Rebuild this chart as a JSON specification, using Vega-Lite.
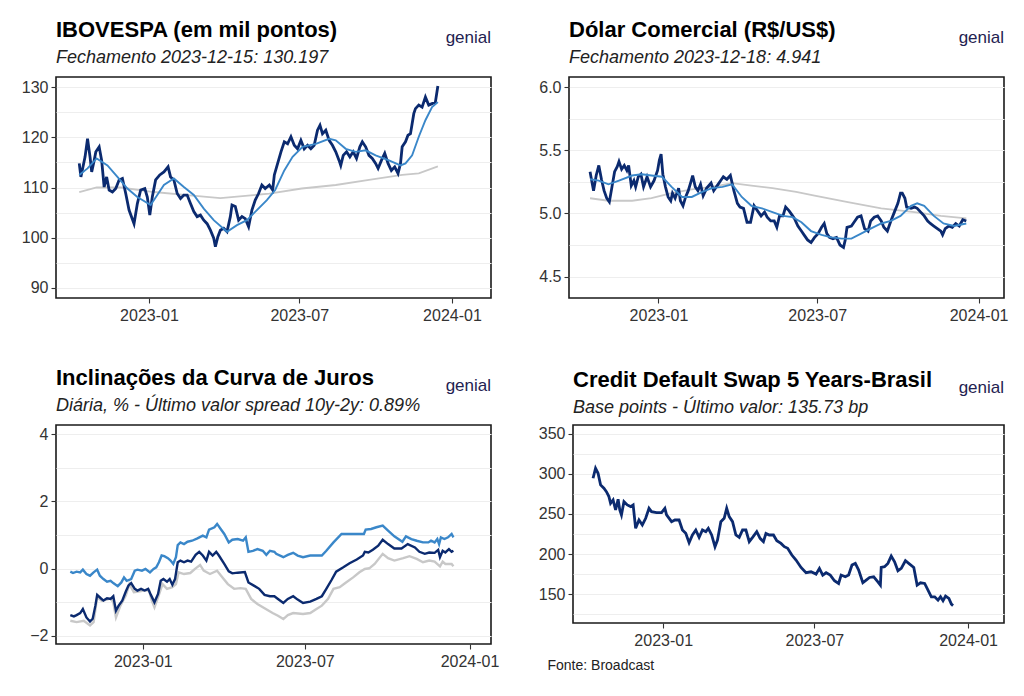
{
"$schema": "https://vega.github.io/schema/vega-lite/v6.json",
"background": "white",
"padding": {"left": 20, "top": 18, "right": 5, "bottom": 5},
"config": {
  "font": "Liberation Sans",
  "view": {"stroke": "#1a1a1a", "strokeWidth": 1.6},
  "axis": {"domain": false, "grid": false, "tickColor": "#333333", "tickSize": 5, "tickWidth": 1.1, "labelColor": "#333333", "labelFontSize": 16, "labelFont": "Liberation Sans"},
  "axisX": {"labelPadding": 4},
  "axisY": {"grid": true, "gridColor": "#eeeeee", "gridWidth": 1, "labelPadding": 3},
  "title": {"anchor": "start", "frame": "group", "font": "Liberation Sans", "fontSize": 22, "fontWeight": "bold", "color": "#000000", "subtitleFont": "Liberation Sans", "subtitleFontSize": 18, "subtitleFontStyle": "italic", "subtitleColor": "#222222", "subtitlePadding": 7, "offset": -39}
},
"datasets": {
"ibov": [
{"d":"2022-10-09","v":114.8,"s":"p"},{"d":"2022-10-11","v":112.1,"s":"p"},{"d":"2022-10-16","v":116.1,"s":"p"},{"d":"2022-10-19","v":119.7,"s":"p"},{"d":"2022-10-22","v":116.1,"s":"p"},{"d":"2022-10-24","v":113.1,"s":"p"},{"d":"2022-10-27","v":115.4,"s":"p"},{"d":"2022-10-29","v":117.1,"s":"p"},{"d":"2022-11-02","v":118.1,"s":"p"},{"d":"2022-11-05","v":115.4,"s":"p"},{"d":"2022-11-08","v":110.1,"s":"p"},{"d":"2022-11-11","v":112.1,"s":"p"},{"d":"2022-11-14","v":109.5,"s":"p"},{"d":"2022-11-18","v":109.1,"s":"p"},{"d":"2022-11-22","v":109.8,"s":"p"},{"d":"2022-11-26","v":111.5,"s":"p"},{"d":"2022-11-30","v":111.8,"s":"p"},{"d":"2022-12-04","v":108.8,"s":"p"},{"d":"2022-12-08","v":105.5,"s":"p"},{"d":"2022-12-14","v":102.8,"s":"p"},{"d":"2022-12-18","v":106.8,"s":"p"},{"d":"2022-12-22","v":109.5,"s":"p"},{"d":"2022-12-27","v":109.8,"s":"p"},{"d":"2022-12-30","v":108.1,"s":"p"},{"d":"2023-01-02","v":104.5,"s":"p"},{"d":"2023-01-05","v":108.1,"s":"p"},{"d":"2023-01-09","v":111.5,"s":"p"},{"d":"2023-01-14","v":112.5,"s":"p"},{"d":"2023-01-19","v":113.1,"s":"p"},{"d":"2023-01-24","v":114.1,"s":"p"},{"d":"2023-01-27","v":112.1,"s":"p"},{"d":"2023-01-31","v":111.5,"s":"p"},{"d":"2023-02-04","v":108.8,"s":"p"},{"d":"2023-02-08","v":107.8,"s":"p"},{"d":"2023-02-12","v":108.5,"s":"p"},{"d":"2023-02-16","v":108.5,"s":"p"},{"d":"2023-02-20","v":106.8,"s":"p"},{"d":"2023-02-24","v":105.2,"s":"p"},{"d":"2023-02-28","v":104.2,"s":"p"},{"d":"2023-03-04","v":104.5,"s":"p"},{"d":"2023-03-08","v":103.5,"s":"p"},{"d":"2023-03-12","v":102.8,"s":"p"},{"d":"2023-03-16","v":101.5,"s":"p"},{"d":"2023-03-20","v":99.9,"s":"p"},{"d":"2023-03-22","v":98.2,"s":"p"},{"d":"2023-03-25","v":100.2,"s":"p"},{"d":"2023-03-28","v":101.5,"s":"p"},{"d":"2023-04-01","v":101.9,"s":"p"},{"d":"2023-04-05","v":101.2,"s":"p"},{"d":"2023-04-09","v":104.2,"s":"p"},{"d":"2023-04-11","v":106.5,"s":"p"},{"d":"2023-04-15","v":106.2,"s":"p"},{"d":"2023-04-19","v":103.5,"s":"p"},{"d":"2023-04-23","v":104.2,"s":"p"},{"d":"2023-04-27","v":103.8,"s":"p"},{"d":"2023-05-01","v":102.2,"s":"p"},{"d":"2023-05-05","v":105.5,"s":"p"},{"d":"2023-05-09","v":107.5,"s":"p"},{"d":"2023-05-13","v":108.8,"s":"p"},{"d":"2023-05-17","v":110.5,"s":"p"},{"d":"2023-05-21","v":109.8,"s":"p"},{"d":"2023-05-26","v":110.5,"s":"p"},{"d":"2023-05-30","v":109.5,"s":"p"},{"d":"2023-06-01","v":112.5,"s":"p"},{"d":"2023-06-05","v":114.8,"s":"p"},{"d":"2023-06-09","v":117.1,"s":"p"},{"d":"2023-06-13","v":119.1,"s":"p"},{"d":"2023-06-17","v":118.7,"s":"p"},{"d":"2023-06-21","v":120.1,"s":"p"},{"d":"2023-06-25","v":118.4,"s":"p"},{"d":"2023-06-29","v":117.7,"s":"p"},{"d":"2023-07-03","v":119.4,"s":"p"},{"d":"2023-07-07","v":117.7,"s":"p"},{"d":"2023-07-11","v":118.4,"s":"p"},{"d":"2023-07-15","v":117.7,"s":"p"},{"d":"2023-07-19","v":118.4,"s":"p"},{"d":"2023-07-23","v":121.4,"s":"p"},{"d":"2023-07-26","v":122.4,"s":"p"},{"d":"2023-07-29","v":120.7,"s":"p"},{"d":"2023-08-02","v":121.4,"s":"p"},{"d":"2023-08-06","v":119.4,"s":"p"},{"d":"2023-08-10","v":118.4,"s":"p"},{"d":"2023-08-14","v":117.1,"s":"p"},{"d":"2023-08-18","v":115.4,"s":"p"},{"d":"2023-08-20","v":114.4,"s":"p"},{"d":"2023-08-23","v":116.4,"s":"p"},{"d":"2023-08-27","v":117.1,"s":"p"},{"d":"2023-08-31","v":116.1,"s":"p"},{"d":"2023-09-04","v":117.1,"s":"p"},{"d":"2023-09-08","v":115.8,"s":"p"},{"d":"2023-09-12","v":118.1,"s":"p"},{"d":"2023-09-15","v":119.1,"s":"p"},{"d":"2023-09-19","v":118.1,"s":"p"},{"d":"2023-09-23","v":116.4,"s":"p"},{"d":"2023-09-27","v":115.8,"s":"p"},{"d":"2023-10-01","v":114.8,"s":"p"},{"d":"2023-10-04","v":113.8,"s":"p"},{"d":"2023-10-08","v":115.4,"s":"p"},{"d":"2023-10-12","v":116.8,"s":"p"},{"d":"2023-10-16","v":114.8,"s":"p"},{"d":"2023-10-20","v":113.4,"s":"p"},{"d":"2023-10-24","v":114.1,"s":"p"},{"d":"2023-10-28","v":112.8,"s":"p"},{"d":"2023-10-31","v":114.8,"s":"p"},{"d":"2023-11-02","v":118.1,"s":"p"},{"d":"2023-11-06","v":119.1,"s":"p"},{"d":"2023-11-09","v":120.4,"s":"p"},{"d":"2023-11-12","v":120.7,"s":"p"},{"d":"2023-11-14","v":122.7,"s":"p"},{"d":"2023-11-16","v":124.7,"s":"p"},{"d":"2023-11-18","v":125.7,"s":"p"},{"d":"2023-11-22","v":126.4,"s":"p"},{"d":"2023-11-26","v":126.0,"s":"p"},{"d":"2023-11-30","v":128.0,"s":"p"},{"d":"2023-12-04","v":126.4,"s":"p"},{"d":"2023-12-08","v":126.7,"s":"p"},{"d":"2023-12-12","v":127.0,"s":"p"},{"d":"2023-12-15","v":130.2,"s":"p"},
{"d":"2022-10-09","v":112.5,"s":"m"},{"d":"2022-10-19","v":113.8,"s":"m"},{"d":"2022-10-30","v":115.8,"s":"m"},{"d":"2022-11-12","v":114.4,"s":"m"},{"d":"2022-11-24","v":112.1,"s":"m"},{"d":"2022-12-06","v":109.8,"s":"m"},{"d":"2022-12-18","v":108.1,"s":"m"},{"d":"2023-01-03","v":106.5,"s":"m"},{"d":"2023-01-11","v":108.5,"s":"m"},{"d":"2023-01-19","v":110.5,"s":"m"},{"d":"2023-01-31","v":111.8,"s":"m"},{"d":"2023-02-12","v":110.1,"s":"m"},{"d":"2023-02-24","v":108.5,"s":"m"},{"d":"2023-03-08","v":105.8,"s":"m"},{"d":"2023-03-20","v":103.5,"s":"m"},{"d":"2023-04-05","v":101.2,"s":"m"},{"d":"2023-04-17","v":102.5,"s":"m"},{"d":"2023-04-29","v":103.5,"s":"m"},{"d":"2023-05-11","v":105.5,"s":"m"},{"d":"2023-05-23","v":107.5,"s":"m"},{"d":"2023-06-02","v":109.5,"s":"m"},{"d":"2023-06-13","v":113.4,"s":"m"},{"d":"2023-06-23","v":116.1,"s":"m"},{"d":"2023-07-05","v":118.1,"s":"m"},{"d":"2023-07-21","v":118.7,"s":"m"},{"d":"2023-08-06","v":119.7,"s":"m"},{"d":"2023-08-14","v":119.4,"s":"m"},{"d":"2023-08-26","v":117.7,"s":"m"},{"d":"2023-09-07","v":117.1,"s":"m"},{"d":"2023-09-19","v":117.4,"s":"m"},{"d":"2023-10-01","v":116.4,"s":"m"},{"d":"2023-10-17","v":115.4,"s":"m"},{"d":"2023-10-31","v":114.4,"s":"m"},{"d":"2023-11-06","v":114.8,"s":"m"},{"d":"2023-11-14","v":116.4,"s":"m"},{"d":"2023-11-22","v":120.1,"s":"m"},{"d":"2023-11-30","v":123.4,"s":"m"},{"d":"2023-12-08","v":126.0,"s":"m"},{"d":"2023-12-15","v":127.0,"s":"m"},
{"d":"2022-10-09","v":109.1,"s":"l"},{"d":"2022-10-30","v":110.0,"s":"l"},{"d":"2022-11-28","v":110.0,"s":"l"},{"d":"2023-01-07","v":109.1,"s":"l"},{"d":"2023-02-16","v":108.5,"s":"l"},{"d":"2023-03-28","v":107.9,"s":"l"},{"d":"2023-05-07","v":108.5,"s":"l"},{"d":"2023-05-26","v":108.8,"s":"l"},{"d":"2023-07-04","v":109.8,"s":"l"},{"d":"2023-08-14","v":110.5,"s":"l"},{"d":"2023-09-23","v":111.5,"s":"l"},{"d":"2023-11-02","v":112.5,"s":"l"},{"d":"2023-11-22","v":112.8,"s":"l"},{"d":"2023-12-15","v":114.2,"s":"l"}
],
"dol": [
{"d":"2022-10-15","v":5.33,"s":"p"},{"d":"2022-10-19","v":5.18,"s":"p"},{"d":"2022-10-22","v":5.30,"s":"p"},{"d":"2022-10-25","v":5.38,"s":"p"},{"d":"2022-10-28","v":5.27,"s":"p"},{"d":"2022-10-31","v":5.18,"s":"p"},{"d":"2022-11-03","v":5.12,"s":"p"},{"d":"2022-11-06","v":5.09,"s":"p"},{"d":"2022-11-09","v":5.21,"s":"p"},{"d":"2022-11-12","v":5.33,"s":"p"},{"d":"2022-11-15","v":5.37,"s":"p"},{"d":"2022-11-17","v":5.41,"s":"p"},{"d":"2022-11-20","v":5.35,"s":"p"},{"d":"2022-11-23","v":5.38,"s":"p"},{"d":"2022-11-26","v":5.34,"s":"p"},{"d":"2022-11-28","v":5.38,"s":"p"},{"d":"2022-12-01","v":5.22,"s":"p"},{"d":"2022-12-04","v":5.26,"s":"p"},{"d":"2022-12-06","v":5.21,"s":"p"},{"d":"2022-12-09","v":5.29,"s":"p"},{"d":"2022-12-12","v":5.31,"s":"p"},{"d":"2022-12-15","v":5.21,"s":"p"},{"d":"2022-12-19","v":5.29,"s":"p"},{"d":"2022-12-23","v":5.21,"s":"p"},{"d":"2022-12-27","v":5.26,"s":"p"},{"d":"2022-12-31","v":5.34,"s":"p"},{"d":"2023-01-02","v":5.42,"s":"p"},{"d":"2023-01-04","v":5.47,"s":"p"},{"d":"2023-01-06","v":5.31,"s":"p"},{"d":"2023-01-09","v":5.21,"s":"p"},{"d":"2023-01-12","v":5.13,"s":"p"},{"d":"2023-01-15","v":5.10,"s":"p"},{"d":"2023-01-17","v":5.16,"s":"p"},{"d":"2023-01-20","v":5.12,"s":"p"},{"d":"2023-01-24","v":5.20,"s":"p"},{"d":"2023-01-26","v":5.10,"s":"p"},{"d":"2023-01-29","v":5.06,"s":"p"},{"d":"2023-02-01","v":5.13,"s":"p"},{"d":"2023-02-04","v":5.18,"s":"p"},{"d":"2023-02-07","v":5.25,"s":"p"},{"d":"2023-02-09","v":5.30,"s":"p"},{"d":"2023-02-12","v":5.21,"s":"p"},{"d":"2023-02-15","v":5.18,"s":"p"},{"d":"2023-02-18","v":5.23,"s":"p"},{"d":"2023-02-21","v":5.14,"s":"p"},{"d":"2023-02-25","v":5.20,"s":"p"},{"d":"2023-03-02","v":5.24,"s":"p"},{"d":"2023-03-05","v":5.18,"s":"p"},{"d":"2023-03-09","v":5.22,"s":"p"},{"d":"2023-03-13","v":5.26,"s":"p"},{"d":"2023-03-16","v":5.29,"s":"p"},{"d":"2023-03-20","v":5.27,"s":"p"},{"d":"2023-03-24","v":5.30,"s":"p"},{"d":"2023-03-28","v":5.18,"s":"p"},{"d":"2023-04-01","v":5.08,"s":"p"},{"d":"2023-04-04","v":5.05,"s":"p"},{"d":"2023-04-08","v":5.04,"s":"p"},{"d":"2023-04-12","v":4.93,"s":"p"},{"d":"2023-04-16","v":4.93,"s":"p"},{"d":"2023-04-20","v":5.06,"s":"p"},{"d":"2023-04-24","v":5.02,"s":"p"},{"d":"2023-04-28","v":4.98,"s":"p"},{"d":"2023-05-02","v":5.01,"s":"p"},{"d":"2023-05-05","v":4.97,"s":"p"},{"d":"2023-05-09","v":4.94,"s":"p"},{"d":"2023-05-13","v":4.94,"s":"p"},{"d":"2023-05-16","v":4.89,"s":"p"},{"d":"2023-05-19","v":4.98,"s":"p"},{"d":"2023-05-23","v":4.98,"s":"p"},{"d":"2023-05-26","v":5.05,"s":"p"},{"d":"2023-05-30","v":5.02,"s":"p"},{"d":"2023-06-03","v":4.98,"s":"p"},{"d":"2023-06-05","v":4.96,"s":"p"},{"d":"2023-06-09","v":4.90,"s":"p"},{"d":"2023-06-13","v":4.86,"s":"p"},{"d":"2023-06-16","v":4.83,"s":"p"},{"d":"2023-06-20","v":4.79,"s":"p"},{"d":"2023-06-24","v":4.77,"s":"p"},{"d":"2023-06-28","v":4.81,"s":"p"},{"d":"2023-07-02","v":4.84,"s":"p"},{"d":"2023-07-06","v":4.89,"s":"p"},{"d":"2023-07-09","v":4.92,"s":"p"},{"d":"2023-07-12","v":4.84,"s":"p"},{"d":"2023-07-15","v":4.81,"s":"p"},{"d":"2023-07-19","v":4.80,"s":"p"},{"d":"2023-07-23","v":4.81,"s":"p"},{"d":"2023-07-27","v":4.75,"s":"p"},{"d":"2023-07-31","v":4.73,"s":"p"},{"d":"2023-08-02","v":4.79,"s":"p"},{"d":"2023-08-04","v":4.89,"s":"p"},{"d":"2023-08-09","v":4.90,"s":"p"},{"d":"2023-08-12","v":4.93,"s":"p"},{"d":"2023-08-16","v":4.97,"s":"p"},{"d":"2023-08-20","v":4.98,"s":"p"},{"d":"2023-08-24","v":4.88,"s":"p"},{"d":"2023-08-28","v":4.86,"s":"p"},{"d":"2023-08-31","v":4.94,"s":"p"},{"d":"2023-09-04","v":4.97,"s":"p"},{"d":"2023-09-08","v":4.98,"s":"p"},{"d":"2023-09-12","v":4.94,"s":"p"},{"d":"2023-09-15","v":4.89,"s":"p"},{"d":"2023-09-19","v":4.86,"s":"p"},{"d":"2023-09-23","v":4.94,"s":"p"},{"d":"2023-09-27","v":5.01,"s":"p"},{"d":"2023-10-01","v":5.08,"s":"p"},{"d":"2023-10-04","v":5.16,"s":"p"},{"d":"2023-10-06","v":5.16,"s":"p"},{"d":"2023-10-09","v":5.12,"s":"p"},{"d":"2023-10-11","v":5.05,"s":"p"},{"d":"2023-10-16","v":5.04,"s":"p"},{"d":"2023-10-20","v":5.05,"s":"p"},{"d":"2023-10-23","v":5.04,"s":"p"},{"d":"2023-10-27","v":5.01,"s":"p"},{"d":"2023-10-31","v":4.98,"s":"p"},{"d":"2023-11-04","v":4.94,"s":"p"},{"d":"2023-11-07","v":4.92,"s":"p"},{"d":"2023-11-11","v":4.90,"s":"p"},{"d":"2023-11-15","v":4.88,"s":"p"},{"d":"2023-11-19","v":4.86,"s":"p"},{"d":"2023-11-21","v":4.83,"s":"p"},{"d":"2023-11-24","v":4.88,"s":"p"},{"d":"2023-11-28","v":4.90,"s":"p"},{"d":"2023-12-02","v":4.89,"s":"p"},{"d":"2023-12-06","v":4.92,"s":"p"},{"d":"2023-12-10","v":4.90,"s":"p"},{"d":"2023-12-14","v":4.95,"s":"p"},{"d":"2023-12-18","v":4.94,"s":"p"},
{"d":"2022-10-15","v":5.27,"s":"m"},{"d":"2022-10-25","v":5.26,"s":"m"},{"d":"2022-11-05","v":5.23,"s":"m"},{"d":"2022-11-17","v":5.26,"s":"m"},{"d":"2022-12-02","v":5.30,"s":"m"},{"d":"2022-12-13","v":5.31,"s":"m"},{"d":"2022-12-24","v":5.30,"s":"m"},{"d":"2023-01-05","v":5.29,"s":"m"},{"d":"2023-01-16","v":5.21,"s":"m"},{"d":"2023-01-28","v":5.13,"s":"m"},{"d":"2023-02-08","v":5.13,"s":"m"},{"d":"2023-02-20","v":5.17,"s":"m"},{"d":"2023-03-03","v":5.20,"s":"m"},{"d":"2023-03-15","v":5.21,"s":"m"},{"d":"2023-03-26","v":5.23,"s":"m"},{"d":"2023-04-06","v":5.13,"s":"m"},{"d":"2023-04-17","v":5.06,"s":"m"},{"d":"2023-04-29","v":5.04,"s":"m"},{"d":"2023-05-11","v":5.01,"s":"m"},{"d":"2023-05-23","v":4.98,"s":"m"},{"d":"2023-06-03","v":4.97,"s":"m"},{"d":"2023-06-13","v":4.93,"s":"m"},{"d":"2023-06-24","v":4.86,"s":"m"},{"d":"2023-07-06","v":4.83,"s":"m"},{"d":"2023-07-17","v":4.81,"s":"m"},{"d":"2023-07-29","v":4.80,"s":"m"},{"d":"2023-08-09","v":4.80,"s":"m"},{"d":"2023-08-20","v":4.84,"s":"m"},{"d":"2023-08-31","v":4.88,"s":"m"},{"d":"2023-09-12","v":4.92,"s":"m"},{"d":"2023-09-23","v":4.94,"s":"m"},{"d":"2023-10-04","v":4.98,"s":"m"},{"d":"2023-10-16","v":5.06,"s":"m"},{"d":"2023-10-23","v":5.08,"s":"m"},{"d":"2023-10-31","v":5.06,"s":"m"},{"d":"2023-11-11","v":4.98,"s":"m"},{"d":"2023-11-22","v":4.92,"s":"m"},{"d":"2023-12-04","v":4.90,"s":"m"},{"d":"2023-12-18","v":4.92,"s":"m"},
{"d":"2022-10-15","v":5.12,"s":"l"},{"d":"2022-11-05","v":5.10,"s":"l"},{"d":"2022-12-02","v":5.10,"s":"l"},{"d":"2022-12-24","v":5.12,"s":"l"},{"d":"2023-01-16","v":5.16,"s":"l"},{"d":"2023-02-08","v":5.19,"s":"l"},{"d":"2023-03-03","v":5.21,"s":"l"},{"d":"2023-03-26","v":5.24,"s":"l"},{"d":"2023-04-17","v":5.22,"s":"l"},{"d":"2023-05-11","v":5.20,"s":"l"},{"d":"2023-06-07","v":5.17,"s":"l"},{"d":"2023-06-28","v":5.14,"s":"l"},{"d":"2023-08-05","v":5.09,"s":"l"},{"d":"2023-09-12","v":5.04,"s":"l"},{"d":"2023-10-20","v":5.01,"s":"l"},{"d":"2023-11-19","v":4.98,"s":"l"},{"d":"2023-12-18","v":4.96,"s":"l"}
],
"juros": [
{"d":"2022-10-12","v":-0.09,"s":"a"},{"d":"2022-10-15","v":-0.13,"s":"a"},{"d":"2022-10-19","v":-0.09,"s":"a"},{"d":"2022-10-23","v":-0.11,"s":"a"},{"d":"2022-10-26","v":-0.03,"s":"a"},{"d":"2022-10-30","v":-0.16,"s":"a"},{"d":"2022-11-03","v":-0.21,"s":"a"},{"d":"2022-11-07","v":-0.11,"s":"a"},{"d":"2022-11-11","v":-0.03,"s":"a"},{"d":"2022-11-14","v":-0.21,"s":"a"},{"d":"2022-11-18","v":-0.31,"s":"a"},{"d":"2022-11-22","v":-0.39,"s":"a"},{"d":"2022-11-26","v":-0.36,"s":"a"},{"d":"2022-11-29","v":-0.43,"s":"a"},{"d":"2022-12-04","v":-0.52,"s":"a"},{"d":"2022-12-08","v":-0.41,"s":"a"},{"d":"2022-12-11","v":-0.26,"s":"a"},{"d":"2022-12-14","v":-0.36,"s":"a"},{"d":"2022-12-19","v":-0.31,"s":"a"},{"d":"2022-12-23","v":-0.06,"s":"a"},{"d":"2022-12-26","v":-0.03,"s":"a"},{"d":"2022-12-31","v":-0.06,"s":"a"},{"d":"2023-01-04","v":-0.01,"s":"a"},{"d":"2023-01-09","v":-0.11,"s":"a"},{"d":"2023-01-13","v":-0.01,"s":"a"},{"d":"2023-01-16","v":0.04,"s":"a"},{"d":"2023-01-19","v":0.19,"s":"a"},{"d":"2023-01-22","v":0.39,"s":"a"},{"d":"2023-01-25","v":0.37,"s":"a"},{"d":"2023-01-29","v":0.31,"s":"a"},{"d":"2023-02-01","v":0.24,"s":"a"},{"d":"2023-02-04","v":0.14,"s":"a"},{"d":"2023-02-07","v":0.34,"s":"a"},{"d":"2023-02-09","v":0.70,"s":"a"},{"d":"2023-02-12","v":0.78,"s":"a"},{"d":"2023-02-16","v":0.73,"s":"a"},{"d":"2023-02-20","v":0.80,"s":"a"},{"d":"2023-02-25","v":0.83,"s":"a"},{"d":"2023-03-03","v":0.90,"s":"a"},{"d":"2023-03-09","v":0.98,"s":"a"},{"d":"2023-03-13","v":0.93,"s":"a"},{"d":"2023-03-16","v":1.16,"s":"a"},{"d":"2023-03-22","v":1.23,"s":"a"},{"d":"2023-03-25","v":1.33,"s":"a"},{"d":"2023-03-29","v":1.18,"s":"a"},{"d":"2023-04-02","v":1.03,"s":"a"},{"d":"2023-04-07","v":0.78,"s":"a"},{"d":"2023-04-11","v":0.86,"s":"a"},{"d":"2023-04-17","v":0.88,"s":"a"},{"d":"2023-04-23","v":0.83,"s":"a"},{"d":"2023-04-26","v":0.93,"s":"a"},{"d":"2023-04-29","v":0.50,"s":"a"},{"d":"2023-05-04","v":0.53,"s":"a"},{"d":"2023-05-09","v":0.58,"s":"a"},{"d":"2023-05-15","v":0.53,"s":"a"},{"d":"2023-05-19","v":0.41,"s":"a"},{"d":"2023-05-23","v":0.53,"s":"a"},{"d":"2023-05-28","v":0.50,"s":"a"},{"d":"2023-05-30","v":0.44,"s":"a"},{"d":"2023-06-07","v":0.34,"s":"a"},{"d":"2023-06-12","v":0.41,"s":"a"},{"d":"2023-06-18","v":0.47,"s":"a"},{"d":"2023-06-23","v":0.39,"s":"a"},{"d":"2023-06-29","v":0.34,"s":"a"},{"d":"2023-07-07","v":0.39,"s":"a"},{"d":"2023-07-14","v":0.39,"s":"a"},{"d":"2023-07-20","v":0.39,"s":"a"},{"d":"2023-07-25","v":0.53,"s":"a"},{"d":"2023-08-02","v":0.78,"s":"a"},{"d":"2023-08-11","v":1.03,"s":"a"},{"d":"2023-08-20","v":1.03,"s":"a"},{"d":"2023-08-29","v":1.03,"s":"a"},{"d":"2023-09-05","v":1.03,"s":"a"},{"d":"2023-09-07","v":1.16,"s":"a"},{"d":"2023-09-13","v":1.18,"s":"a"},{"d":"2023-09-19","v":1.23,"s":"a"},{"d":"2023-09-26","v":1.28,"s":"a"},{"d":"2023-10-02","v":1.13,"s":"a"},{"d":"2023-10-09","v":0.96,"s":"a"},{"d":"2023-10-18","v":0.80,"s":"a"},{"d":"2023-10-22","v":0.96,"s":"a"},{"d":"2023-10-28","v":0.88,"s":"a"},{"d":"2023-11-03","v":0.83,"s":"a"},{"d":"2023-11-10","v":0.78,"s":"a"},{"d":"2023-11-16","v":0.78,"s":"a"},{"d":"2023-11-19","v":0.83,"s":"a"},{"d":"2023-11-23","v":0.78,"s":"a"},{"d":"2023-11-26","v":0.88,"s":"a"},{"d":"2023-11-28","v":0.73,"s":"a"},{"d":"2023-11-30","v":0.93,"s":"a"},{"d":"2023-12-04","v":0.88,"s":"a"},{"d":"2023-12-08","v":0.93,"s":"a"},{"d":"2023-12-12","v":1.03,"s":"a"},{"d":"2023-12-14","v":0.93,"s":"a"},
{"d":"2022-10-12","v":-1.38,"s":"b"},{"d":"2022-10-16","v":-1.42,"s":"b"},{"d":"2022-10-19","v":-1.38,"s":"b"},{"d":"2022-10-23","v":-1.32,"s":"b"},{"d":"2022-10-26","v":-1.20,"s":"b"},{"d":"2022-10-30","v":-1.45,"s":"b"},{"d":"2022-11-03","v":-1.57,"s":"b"},{"d":"2022-11-06","v":-1.49,"s":"b"},{"d":"2022-11-09","v":-1.10,"s":"b"},{"d":"2022-11-11","v":-0.78,"s":"b"},{"d":"2022-11-15","v":-0.88,"s":"b"},{"d":"2022-11-18","v":-0.95,"s":"b"},{"d":"2022-11-22","v":-0.88,"s":"b"},{"d":"2022-11-26","v":-0.90,"s":"b"},{"d":"2022-11-29","v":-0.82,"s":"b"},{"d":"2022-12-02","v":-1.25,"s":"b"},{"d":"2022-12-05","v":-1.10,"s":"b"},{"d":"2022-12-09","v":-0.95,"s":"b"},{"d":"2022-12-13","v":-0.68,"s":"b"},{"d":"2022-12-16","v":-0.50,"s":"b"},{"d":"2022-12-19","v":-0.43,"s":"b"},{"d":"2022-12-23","v":-0.60,"s":"b"},{"d":"2022-12-26","v":-0.65,"s":"b"},{"d":"2022-12-30","v":-0.60,"s":"b"},{"d":"2023-01-03","v":-0.65,"s":"b"},{"d":"2023-01-07","v":-0.60,"s":"b"},{"d":"2023-01-10","v":-0.78,"s":"b"},{"d":"2023-01-14","v":-1.00,"s":"b"},{"d":"2023-01-18","v":-0.75,"s":"b"},{"d":"2023-01-21","v":-0.36,"s":"b"},{"d":"2023-01-24","v":-0.31,"s":"b"},{"d":"2023-01-28","v":-0.39,"s":"b"},{"d":"2023-01-31","v":-0.31,"s":"b"},{"d":"2023-02-03","v":-0.48,"s":"b"},{"d":"2023-02-06","v":-0.31,"s":"b"},{"d":"2023-02-09","v":0.19,"s":"b"},{"d":"2023-02-12","v":0.24,"s":"b"},{"d":"2023-02-16","v":0.19,"s":"b"},{"d":"2023-02-20","v":0.24,"s":"b"},{"d":"2023-02-24","v":0.21,"s":"b"},{"d":"2023-03-01","v":0.41,"s":"b"},{"d":"2023-03-05","v":0.50,"s":"b"},{"d":"2023-03-09","v":0.39,"s":"b"},{"d":"2023-03-13","v":0.24,"s":"b"},{"d":"2023-03-16","v":0.50,"s":"b"},{"d":"2023-03-20","v":0.39,"s":"b"},{"d":"2023-03-24","v":0.50,"s":"b"},{"d":"2023-03-27","v":0.39,"s":"b"},{"d":"2023-04-02","v":0.14,"s":"b"},{"d":"2023-04-07","v":-0.08,"s":"b"},{"d":"2023-04-11","v":-0.14,"s":"b"},{"d":"2023-04-17","v":-0.12,"s":"b"},{"d":"2023-04-25","v":-0.10,"s":"b"},{"d":"2023-04-29","v":-0.41,"s":"b"},{"d":"2023-05-06","v":-0.52,"s":"b"},{"d":"2023-05-11","v":-0.60,"s":"b"},{"d":"2023-05-17","v":-0.78,"s":"b"},{"d":"2023-05-23","v":-0.82,"s":"b"},{"d":"2023-05-28","v":-0.82,"s":"b"},{"d":"2023-06-01","v":-0.90,"s":"b"},{"d":"2023-06-07","v":-1.02,"s":"b"},{"d":"2023-06-12","v":-0.90,"s":"b"},{"d":"2023-06-18","v":-0.82,"s":"b"},{"d":"2023-06-23","v":-0.92,"s":"b"},{"d":"2023-06-29","v":-1.02,"s":"b"},{"d":"2023-07-07","v":-0.98,"s":"b"},{"d":"2023-07-14","v":-0.90,"s":"b"},{"d":"2023-07-20","v":-0.82,"s":"b"},{"d":"2023-07-25","v":-0.60,"s":"b"},{"d":"2023-07-31","v":-0.33,"s":"b"},{"d":"2023-08-05","v":-0.09,"s":"b"},{"d":"2023-08-13","v":0.04,"s":"b"},{"d":"2023-08-20","v":0.16,"s":"b"},{"d":"2023-08-28","v":0.27,"s":"b"},{"d":"2023-09-04","v":0.39,"s":"b"},{"d":"2023-09-06","v":0.50,"s":"b"},{"d":"2023-09-10","v":0.48,"s":"b"},{"d":"2023-09-15","v":0.56,"s":"b"},{"d":"2023-09-21","v":0.68,"s":"b"},{"d":"2023-09-26","v":0.86,"s":"b"},{"d":"2023-10-02","v":0.73,"s":"b"},{"d":"2023-10-09","v":0.60,"s":"b"},{"d":"2023-10-17","v":0.60,"s":"b"},{"d":"2023-10-24","v":0.73,"s":"b"},{"d":"2023-11-01","v":0.63,"s":"b"},{"d":"2023-11-06","v":0.50,"s":"b"},{"d":"2023-11-12","v":0.44,"s":"b"},{"d":"2023-11-17","v":0.48,"s":"b"},{"d":"2023-11-23","v":0.47,"s":"b"},{"d":"2023-11-27","v":0.56,"s":"b"},{"d":"2023-11-29","v":0.34,"s":"b"},{"d":"2023-12-02","v":0.53,"s":"b"},{"d":"2023-12-05","v":0.48,"s":"b"},{"d":"2023-12-09","v":0.58,"s":"b"},{"d":"2023-12-12","v":0.50,"s":"b"},{"d":"2023-12-14","v":0.53,"s":"b"},
{"d":"2022-10-12","v":-1.55,"s":"c"},{"d":"2022-10-19","v":-1.59,"s":"c"},{"d":"2022-10-27","v":-1.55,"s":"c"},{"d":"2022-11-03","v":-1.69,"s":"c"},{"d":"2022-11-07","v":-1.59,"s":"c"},{"d":"2022-11-11","v":-0.85,"s":"c"},{"d":"2022-11-16","v":-0.95,"s":"c"},{"d":"2022-11-22","v":-0.92,"s":"c"},{"d":"2022-11-26","v":-0.88,"s":"c"},{"d":"2022-11-29","v":-1.00,"s":"c"},{"d":"2022-12-02","v":-1.45,"s":"c"},{"d":"2022-12-07","v":-1.10,"s":"c"},{"d":"2022-12-13","v":-0.80,"s":"c"},{"d":"2022-12-17","v":-0.46,"s":"c"},{"d":"2022-12-22","v":-0.70,"s":"c"},{"d":"2022-12-27","v":-0.68,"s":"c"},{"d":"2023-01-02","v":-0.65,"s":"c"},{"d":"2023-01-08","v":-0.65,"s":"c"},{"d":"2023-01-11","v":-0.95,"s":"c"},{"d":"2023-01-14","v":-1.15,"s":"c"},{"d":"2023-01-18","v":-0.85,"s":"c"},{"d":"2023-01-23","v":-0.46,"s":"c"},{"d":"2023-01-28","v":-0.60,"s":"c"},{"d":"2023-02-03","v":-0.55,"s":"c"},{"d":"2023-02-07","v":-0.46,"s":"c"},{"d":"2023-02-10","v":-0.11,"s":"c"},{"d":"2023-02-16","v":-0.16,"s":"c"},{"d":"2023-02-23","v":-0.13,"s":"c"},{"d":"2023-03-01","v":0.01,"s":"c"},{"d":"2023-03-06","v":0.11,"s":"c"},{"d":"2023-03-10","v":-0.06,"s":"c"},{"d":"2023-03-17","v":-0.16,"s":"c"},{"d":"2023-03-25","v":-0.06,"s":"c"},{"d":"2023-03-31","v":-0.26,"s":"c"},{"d":"2023-04-06","v":-0.46,"s":"c"},{"d":"2023-04-13","v":-0.60,"s":"c"},{"d":"2023-04-20","v":-0.58,"s":"c"},{"d":"2023-04-26","v":-0.60,"s":"c"},{"d":"2023-05-02","v":-0.90,"s":"c"},{"d":"2023-05-09","v":-1.05,"s":"c"},{"d":"2023-05-17","v":-1.18,"s":"c"},{"d":"2023-05-26","v":-1.32,"s":"c"},{"d":"2023-06-01","v":-1.40,"s":"c"},{"d":"2023-06-07","v":-1.50,"s":"c"},{"d":"2023-06-12","v":-1.38,"s":"c"},{"d":"2023-06-18","v":-1.32,"s":"c"},{"d":"2023-06-29","v":-1.35,"s":"c"},{"d":"2023-07-07","v":-1.32,"s":"c"},{"d":"2023-07-14","v":-1.20,"s":"c"},{"d":"2023-07-20","v":-1.10,"s":"c"},{"d":"2023-07-27","v":-0.90,"s":"c"},{"d":"2023-08-02","v":-0.60,"s":"c"},{"d":"2023-08-09","v":-0.55,"s":"c"},{"d":"2023-08-16","v":-0.41,"s":"c"},{"d":"2023-08-24","v":-0.26,"s":"c"},{"d":"2023-08-31","v":-0.11,"s":"c"},{"d":"2023-09-06","v":-0.01,"s":"c"},{"d":"2023-09-11","v":0.01,"s":"c"},{"d":"2023-09-17","v":0.14,"s":"c"},{"d":"2023-09-26","v":0.44,"s":"c"},{"d":"2023-10-02","v":0.31,"s":"c"},{"d":"2023-10-09","v":0.24,"s":"c"},{"d":"2023-10-19","v":0.31,"s":"c"},{"d":"2023-10-26","v":0.37,"s":"c"},{"d":"2023-11-03","v":0.29,"s":"c"},{"d":"2023-11-10","v":0.19,"s":"c"},{"d":"2023-11-17","v":0.24,"s":"c"},{"d":"2023-11-23","v":0.21,"s":"c"},{"d":"2023-11-29","v":0.07,"s":"c"},{"d":"2023-12-02","v":0.21,"s":"c"},{"d":"2023-12-05","v":0.14,"s":"c"},{"d":"2023-12-12","v":0.14,"s":"c"},{"d":"2023-12-14","v":0.07,"s":"c"}
],
"cds": [
{"d":"2022-10-09","v":294.6},{"d":"2022-10-12","v":307.1},{"d":"2022-10-15","v":300.8},{"d":"2022-10-18","v":286.3},{"d":"2022-10-22","v":282.1},{"d":"2022-10-25","v":277.9},{"d":"2022-10-28","v":271.7},{"d":"2022-10-30","v":263.3},{"d":"2022-11-02","v":267.5},{"d":"2022-11-05","v":255.0},{"d":"2022-11-08","v":268.3},{"d":"2022-11-10","v":255.0},{"d":"2022-11-12","v":248.8},{"d":"2022-11-15","v":265.4},{"d":"2022-11-19","v":261.3},{"d":"2022-11-23","v":259.2},{"d":"2022-11-26","v":261.3},{"d":"2022-11-29","v":232.1},{"d":"2022-12-03","v":242.5},{"d":"2022-12-07","v":236.3},{"d":"2022-12-11","v":244.6},{"d":"2022-12-15","v":257.1},{"d":"2022-12-18","v":252.9},{"d":"2022-12-24","v":251.7},{"d":"2022-12-30","v":251.7},{"d":"2023-01-03","v":257.1},{"d":"2023-01-05","v":248.8},{"d":"2023-01-11","v":240.4},{"d":"2023-01-15","v":242.5},{"d":"2023-01-20","v":242.5},{"d":"2023-01-24","v":230.0},{"d":"2023-01-28","v":225.8},{"d":"2023-02-01","v":214.2},{"d":"2023-02-05","v":223.8},{"d":"2023-02-09","v":230.0},{"d":"2023-02-13","v":220.8},{"d":"2023-02-17","v":230.0},{"d":"2023-02-21","v":227.9},{"d":"2023-02-24","v":232.1},{"d":"2023-02-28","v":223.8},{"d":"2023-03-04","v":209.2},{"d":"2023-03-07","v":217.5},{"d":"2023-03-11","v":240.4},{"d":"2023-03-15","v":244.6},{"d":"2023-03-18","v":257.1},{"d":"2023-03-21","v":246.7},{"d":"2023-03-25","v":240.4},{"d":"2023-03-29","v":223.8},{"d":"2023-04-02","v":220.8},{"d":"2023-04-06","v":230.0},{"d":"2023-04-10","v":230.0},{"d":"2023-04-14","v":215.4},{"d":"2023-04-18","v":220.8},{"d":"2023-04-23","v":227.9},{"d":"2023-04-27","v":219.6},{"d":"2023-05-01","v":215.4},{"d":"2023-05-04","v":225.8},{"d":"2023-05-08","v":223.8},{"d":"2023-05-13","v":223.8},{"d":"2023-05-17","v":216.7},{"d":"2023-05-22","v":213.3},{"d":"2023-05-26","v":209.2},{"d":"2023-05-30","v":207.1},{"d":"2023-06-04","v":198.8},{"d":"2023-06-09","v":192.5},{"d":"2023-06-15","v":183.3},{"d":"2023-06-21","v":176.7},{"d":"2023-06-27","v":177.9},{"d":"2023-07-03","v":175.0},{"d":"2023-07-07","v":182.1},{"d":"2023-07-11","v":173.8},{"d":"2023-07-15","v":176.7},{"d":"2023-07-20","v":173.8},{"d":"2023-07-25","v":166.7},{"d":"2023-07-30","v":163.3},{"d":"2023-08-02","v":173.8},{"d":"2023-08-07","v":171.7},{"d":"2023-08-11","v":173.8},{"d":"2023-08-15","v":186.3},{"d":"2023-08-19","v":188.3},{"d":"2023-08-23","v":180.0},{"d":"2023-08-28","v":164.2},{"d":"2023-09-01","v":167.5},{"d":"2023-09-05","v":170.8},{"d":"2023-09-10","v":171.7},{"d":"2023-09-15","v":165.4},{"d":"2023-09-18","v":161.3},{"d":"2023-09-19","v":183.3},{"d":"2023-09-23","v":184.2},{"d":"2023-09-27","v":188.3},{"d":"2023-10-01","v":197.5},{"d":"2023-10-05","v":190.4},{"d":"2023-10-09","v":179.2},{"d":"2023-10-13","v":182.1},{"d":"2023-10-18","v":191.7},{"d":"2023-10-23","v":187.5},{"d":"2023-10-28","v":183.3},{"d":"2023-11-01","v":161.3},{"d":"2023-11-05","v":164.2},{"d":"2023-11-10","v":163.3},{"d":"2023-11-14","v":155.0},{"d":"2023-11-18","v":146.7},{"d":"2023-11-22","v":146.7},{"d":"2023-11-26","v":142.5},{"d":"2023-11-29","v":146.7},{"d":"2023-12-02","v":141.7},{"d":"2023-12-05","v":147.5},{"d":"2023-12-09","v":144.6},{"d":"2023-12-12","v":137.5},{"d":"2023-12-14","v":135.7}
]
},
"spacing": 41,
"vconcat": [
{"spacing": 45, "hconcat": [
{
 "width": 435, "height": 221,
 "title": {"text": "IBOVESPA (em mil pontos)", "subtitle": "Fechamento 2023-12-15: 130.197"},
 "resolve": {"scale": {"y": "independent"}, "axis": {"y": "independent"}},
 "layer": [
  {"encoding": {
    "x": {"field": "d", "type": "temporal", "title": null, "scale": {"domain": [{"year":2022,"month":9,"date":11},{"year":2024,"month":2,"date":17}]}, "axis": {"values": [{"year":2023,"month":1,"date":1},{"year":2023,"month":7,"date":1},{"year":2024,"month":1,"date":1}], "format": "%Y-%m"}},
    "y": {"field": "v", "type": "quantitative", "title": null, "scale": {"domain": [88,132], "nice": false, "zero": false}, "axis": {"values": [90,95,100,105,110,115,120,125,130], "labelExpr": "datum.value % 10 === 0 ? datum.label : ''", "tickOpacity": {"condition": {"test": "datum.value % 10 !== 0", "value": 0}, "value": 1}}}
   },
   "layer": [
    {"data": {"name": "ibov"}, "transform": [{"filter": "datum.s === 'l'"}], "mark": {"type": "line", "color": "#c8c8c8", "strokeWidth": 1.8}},
    {"data": {"name": "ibov"}, "transform": [{"filter": "datum.s === 'p'"}], "mark": {"type": "line", "color": "#0b2a6f", "strokeWidth": 2.8}},
    {"data": {"name": "ibov"}, "transform": [{"filter": "datum.s === 'm'"}], "mark": {"type": "line", "color": "#3a87c9", "strokeWidth": 1.9}}
   ]
  },
  {"data": {"values": [{"t": "genial"}]}, "mark": {"type": "text", "align": "right", "baseline": "alphabetic", "fontSize": 17, "color": "#1f2251", "clip": false}, "encoding": {"x": {"datum": {"year":2024,"month":2,"date":17}, "type": "temporal", "title": null}, "y": {"datum": 1.154, "type": "quantitative", "scale": {"domain": [0, 1], "nice": false, "zero": false}, "axis": null}, "text": {"field": "t"}}}
 ]
},
{
 "width": 435, "height": 221,
 "title": {"text": "Dólar Comercial (R$/US$)", "subtitle": "Fechamento 2023-12-18: 4.941"},
 "resolve": {"scale": {"y": "independent"}, "axis": {"y": "independent"}},
 "layer": [
  {"encoding": {
    "x": {"field": "d", "type": "temporal", "title": null, "scale": {"domain": [{"year":2022,"month":9,"date":21},{"year":2024,"month":1,"date":30}]}, "axis": {"values": [{"year":2023,"month":1,"date":1},{"year":2023,"month":7,"date":1},{"year":2024,"month":1,"date":1}], "format": "%Y-%m"}},
    "y": {"field": "v", "type": "quantitative", "title": null, "scale": {"domain": [4.33,6.08], "nice": false, "zero": false}, "axis": {"values": [4.5,4.75,5,5.25,5.5,5.75,6], "format": ".1f", "labelExpr": "abs(datum.value*2 - round(datum.value*2)) < 0.001 ? datum.label : ''", "tickOpacity": {"condition": {"test": "abs(datum.value*2 - round(datum.value*2)) > 0.001", "value": 0}, "value": 1}}}
   },
   "layer": [
    {"data": {"name": "dol"}, "transform": [{"filter": "datum.s === 'l'"}], "mark": {"type": "line", "color": "#c8c8c8", "strokeWidth": 1.8}},
    {"data": {"name": "dol"}, "transform": [{"filter": "datum.s === 'p'"}], "mark": {"type": "line", "color": "#0b2a6f", "strokeWidth": 2.8}},
    {"data": {"name": "dol"}, "transform": [{"filter": "datum.s === 'm'"}], "mark": {"type": "line", "color": "#3a87c9", "strokeWidth": 1.9}}
   ]
  },
  {"data": {"values": [{"t": "genial"}]}, "mark": {"type": "text", "align": "right", "baseline": "alphabetic", "fontSize": 17, "color": "#1f2251", "clip": false}, "encoding": {"x": {"datum": {"year":2024,"month":1,"date":30}, "type": "temporal", "title": null}, "y": {"datum": 1.154, "type": "quantitative", "scale": {"domain": [0, 1], "nice": false, "zero": false}, "axis": null}, "text": {"field": "t"}}}
 ]
}
]},
{"spacing": 37, "hconcat": [
{
 "width": 435, "height": 219,
 "title": {"text": "Inclinações da Curva de Juros", "subtitle": "Diária, % - Último valor spread 10y-2y: 0.89%"},
 "resolve": {"scale": {"y": "independent"}, "axis": {"y": "independent"}},
 "layer": [
  {"encoding": {
    "x": {"field": "d", "type": "temporal", "title": null, "scale": {"domain": [{"year":2022,"month":9,"date":26},{"year":2024,"month":1,"date":25}]}, "axis": {"values": [{"year":2023,"month":1,"date":1},{"year":2023,"month":7,"date":1},{"year":2024,"month":1,"date":1}], "format": "%Y-%m"}},
    "y": {"field": "v", "type": "quantitative", "title": null, "scale": {"domain": [-2.24,4.27], "nice": false, "zero": false}, "axis": {"values": [-2,-1,0,1,2,3,4], "labelExpr": "datum.value % 2 === 0 ? datum.label : ''", "tickOpacity": {"condition": {"test": "datum.value % 2 !== 0", "value": 0}, "value": 1}}}
   },
   "layer": [
    {"data": {"name": "juros"}, "transform": [{"filter": "datum.s === 'c'"}], "mark": {"type": "line", "color": "#c8c8c8", "strokeWidth": 2.4}},
    {"data": {"name": "juros"}, "transform": [{"filter": "datum.s === 'a'"}], "mark": {"type": "line", "color": "#3a87c9", "strokeWidth": 2.4}},
    {"data": {"name": "juros"}, "transform": [{"filter": "datum.s === 'b'"}], "mark": {"type": "line", "color": "#0b2a6f", "strokeWidth": 2.4}}
   ]
  },
  {"data": {"values": [{"t": "genial"}]}, "mark": {"type": "text", "align": "right", "baseline": "alphabetic", "fontSize": 17, "color": "#1f2251", "clip": false}, "encoding": {"x": {"datum": {"year":2024,"month":1,"date":25}, "type": "temporal", "title": null}, "y": {"datum": 1.157, "type": "quantitative", "scale": {"domain": [0, 1], "nice": false, "zero": false}, "axis": null}, "text": {"field": "t"}}}
 ]
},
{
 "width": 431, "height": 198,
 "title": {"text": "Credit Default Swap 5 Years-Brasil", "subtitle": "Base points - Último valor: 135.73 bp"},
 "resolve": {"scale": {"y": "independent"}, "axis": {"y": "independent"}},
 "layer": [
  {"encoding": {
    "x": {"field": "d", "type": "temporal", "scale": {"domain": [{"year":2022,"month":9,"date":15},{"year":2024,"month":2,"date":13}]}, "axis": {"values": [{"year":2023,"month":1,"date":1},{"year":2023,"month":7,"date":1},{"year":2024,"month":1,"date":1}], "format": "%Y-%m", "title": "Fonte: Broadcast", "titleX": -26, "titleY": 46, "titleAlign": "left", "titleBaseline": "alphabetic", "titleFontSize": 14, "titleFontWeight": "normal", "titleColor": "#222222", "titleFont": "Liberation Sans"}},
    "y": {"field": "v", "type": "quantitative", "title": null, "scale": {"domain": [114,361], "nice": false, "zero": false}, "axis": {"values": [125,150,175,200,225,250,275,300,325,350], "labelExpr": "datum.value % 50 === 0 ? datum.label : ''", "tickOpacity": {"condition": {"test": "datum.value % 50 !== 0", "value": 0}, "value": 1}}}
   },
   "layer": [
    {"data": {"name": "cds"}, "mark": {"type": "line", "color": "#0b2a6f", "strokeWidth": 2.8}}
   ]
  },
  {"data": {"values": [{"t": "genial"}]}, "mark": {"type": "text", "align": "right", "baseline": "alphabetic", "fontSize": 17, "color": "#1f2251", "clip": false}, "encoding": {"x": {"datum": {"year":2024,"month":2,"date":13}, "type": "temporal", "title": "Fonte: Broadcast"}, "y": {"datum": 1.16, "type": "quantitative", "scale": {"domain": [0, 1], "nice": false, "zero": false}, "axis": null}, "text": {"field": "t"}}}
 ]
}
]}
]
}
